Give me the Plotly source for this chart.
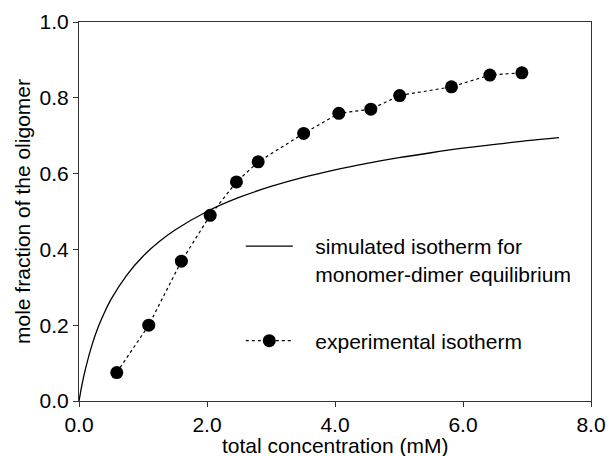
import plotly.graph_objects as go

# Simulated monomer-dimer isotherm
sim_x = [0.0, 0.02, 0.05, 0.1, 0.2, 0.3, 0.4, 0.5, 0.75, 1.0, 1.25, 1.5, 2.0, 2.5, 3.0, 3.5, 4.0, 4.5, 5.0, 5.5, 6.0, 6.5, 7.0, 7.5]
sim_y = [0.0, 0.019, 0.046, 0.084, 0.146, 0.195, 0.234, 0.268, 0.333, 0.382, 0.420, 0.451, 0.500, 0.537, 0.566, 0.590, 0.610, 0.627, 0.642, 0.655, 0.667, 0.677, 0.687, 0.695]

# Experimental isotherm
exp_x = [0.59, 1.09, 1.60, 2.05, 2.46, 2.80, 3.51, 4.06, 4.56, 5.01, 5.82, 6.42, 6.92]
exp_y = [0.075, 0.200, 0.369, 0.490, 0.578, 0.631, 0.706, 0.759, 0.770, 0.806, 0.829, 0.860, 0.866]

x_ticks = [0, 2, 4, 6, 8]
x_tick_labels = ["0.0", "2.0", "4.0", "6.0", "8.0"]
y_ticks = [0, 0.2, 0.4, 0.6, 0.8, 1.0]
y_tick_labels = ["0.0", "0.2", "0.4", "0.6", "0.8", "1.0"]

x_title = "total concentration (mM)"
y_title = "mole fraction of the oligomer"

FONT = "Liberation Sans, Arial, sans-serif"
PAD = "\u00a0" * 3

fig = go.Figure()
fig.add_trace(go.Scatter(
    x=sim_x, y=sim_y, mode="lines", line=dict(color="black", width=1.3, shape="spline"),
    name=PAD + "simulated isotherm for<br>" + PAD + "monomer-dimer equilibrium", legendgroup="a"))
fig.add_trace(go.Scatter(
    x=exp_x, y=exp_y, mode="lines+markers",
    line=dict(color="black", width=1.2, dash="3px,3px"),
    marker=dict(color="black", size=13),
    name=PAD + "experimental isotherm", legendgroup="b"))

fig.update_layout(
    width=608, height=456,
    margin=dict(l=79, r=17, t=22, b=55, autoexpand=False),
    paper_bgcolor="white", plot_bgcolor="white",
    font=dict(family=FONT, size=21, color="black"),
    legend=dict(x=0.316, y=0.462, xanchor="left", yanchor="top",
                bgcolor="rgba(0,0,0,0)", valign="top",
                tracegroupgap=37, itemwidth=47,
                font=dict(size=21)),
    xaxis=dict(range=[0, 8], tickvals=x_ticks, ticktext=x_tick_labels, automargin=False,
               showline=True, linecolor="#333", linewidth=1, mirror=True,
               ticks="outside", ticklen=5, tickcolor="#333", showgrid=False, zeroline=False),
    yaxis=dict(range=[0, 1.0], tickvals=y_ticks, ticktext=y_tick_labels, automargin=False,
               showline=True, linecolor="#333", linewidth=1, mirror=True,
               ticks="outside", ticklen=5, tickcolor="#333", showgrid=False, zeroline=False,
               title=dict(text=y_title, font=dict(size=21), standoff=3)),
    annotations=[dict(text=x_title, xref="paper", yref="paper", x=0.5, y=0,
                      xanchor="center", yanchor="top", yshift=-31, showarrow=False,
                      font=dict(size=21))],
)

fig.write_html("out.html", config={"displayModeBar": False},
               post_script="document.body.style.margin='0';")
